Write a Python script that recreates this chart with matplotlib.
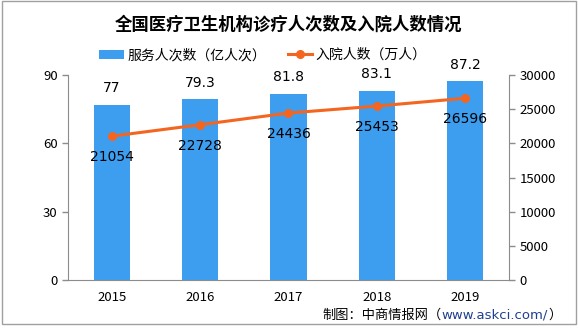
import matplotlib
matplotlib.use("Agg")
import matplotlib.pyplot as plt
from matplotlib.patches import Rectangle, Patch
from matplotlib.lines import Line2D

plt.rcParams['font.family'] = ['Noto Sans CJK SC', 'DejaVu Sans']

years = ["2015", "2016", "2017", "2018", "2019"]
visits = [77, 79.3, 81.8, 83.1, 87.2]            # 亿人次
inpatients = [21054, 22728, 24436, 25453, 26596]  # 万人

bar_color = "#3D9EF0"
line_color = "#F4651F"
axis_color = "#8C8C8C"

fig = plt.figure(figsize=(5.78, 3.28), dpi=100)
ax = fig.add_axes([0.1176, 0.1463, 0.7630, 0.6250])
ax2 = ax.twinx()

x = list(range(len(years)))
ax.bar(x, visits, width=0.41, color=bar_color, zorder=2)
ax.set_ylim(0, 90)
ax.set_yticks([0, 30, 60, 90])
ax.set_xlim(-0.5, len(years) - 0.5)
ax.set_xticks(x)
ax.set_xticklabels(years)

ax2.plot(x, inpatients, color=line_color, lw=2.2, marker="o", ms=5.5, zorder=3)
ax2.set_ylim(0, 30000)
ax2.set_yticks(range(0, 30001, 5000))

for xi, v in zip(x, visits):
    ax.annotate(f"{v:g}", (xi, v), xytext=(0, 7), textcoords="offset points",
                ha="center", va="bottom", fontsize=10, family="DejaVu Sans")
for xi, v in zip(x, inpatients):
    ax2.annotate(f"{v}", (xi, v), xytext=(0, -10), textcoords="offset points",
                 ha="center", va="top", fontsize=10, family="DejaVu Sans")

for a in (ax, ax2):
    for s in a.spines.values():
        s.set_visible(False)
    a.tick_params(colors="black", labelsize=9.5, length=4, width=1)
    a.tick_params(axis="y", color=axis_color)
ax.spines["left"].set_visible(True)
ax.spines["left"].set_color(axis_color)
ax.spines["bottom"].set_visible(True)
ax.spines["bottom"].set_color(axis_color)
ax2.spines["right"].set_visible(True)
ax2.spines["right"].set_color(axis_color)
ax.tick_params(axis="x", length=0, pad=8)

fig.text(0.5, 0.925, "全国医疗卫生机构诊疗人次数及入院人数情况", ha="center", va="center",
         fontsize=12.5, fontweight="bold")

handles = [Patch(facecolor=bar_color, edgecolor="none"),
           Line2D([0], [0], color=line_color, lw=2.2, marker="o", ms=5.5)]
fig.legend(handles, ["服务人次数（亿人次）", "入院人数（万人）"], loc="center",
           bbox_to_anchor=(0.455, 0.832), ncol=2, frameon=False, fontsize=10,
           handlelength=1.75, columnspacing=1.6, handletextpad=0.25,
           handleheight=0.6)

# footer credit, pieces chained left to right
t1 = fig.text(0.558, 0.04, "制图：中商情报网（", ha="left", va="center", fontsize=9.5)
url = fig.add_artist(plt.Annotation("www.askci.com/", xy=(1, 0.5), xycoords=t1,
                                    va="center", ha="left", fontsize=9.5,
                                    color="#1F3F8F", family="DejaVu Sans"))
fig.add_artist(plt.Annotation("）", xy=(1, 0.5), xycoords=url,
                              va="center", ha="left", fontsize=9.5))

fig.add_artist(Rectangle((0.003, 0.012), 0.994, 0.985, transform=fig.transFigure,
                         fill=False, edgecolor="#A0A0A0", lw=1))

fig.savefig("out.png", dpi=100)
